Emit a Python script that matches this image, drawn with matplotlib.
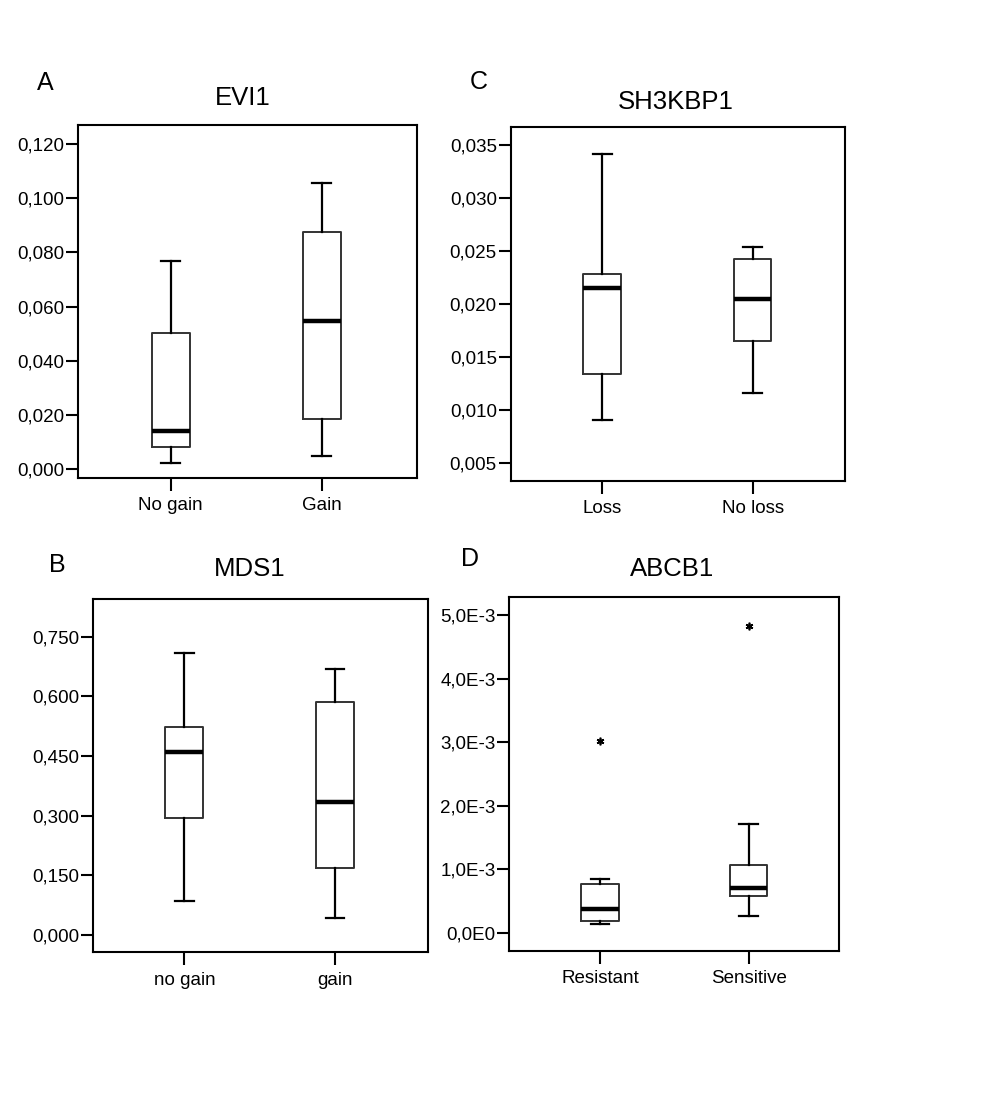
import matplotlib.pyplot as plt
import numpy as np
from matplotlib.ticker import FuncFormatter

plt.rcParams['font.family'] = ['Liberation Sans', 'DejaVu Sans']

# box statistics: whislo, q1, med, q3, whishi
evi1_groups = ['No gain', 'Gain']
evi1_whislo = [0.0023, 0.0048]
evi1_q1 = [0.0082, 0.0184]
evi1_med = [0.0142, 0.0548]
evi1_q3 = [0.0503, 0.0876]
evi1_whishi = [0.0768, 0.1055]

sh3_groups = ['Loss', 'No loss']
sh3_whislo = [0.00903, 0.01155]
sh3_q1 = [0.01338, 0.01650]
sh3_med = [0.02152, 0.02043]
sh3_q3 = [0.02279, 0.02420]
sh3_whishi = [0.03415, 0.02540]

mds1_groups = ['no gain', 'gain']
mds1_whislo = [0.086, 0.0435]
mds1_q1 = [0.295, 0.168]
mds1_med = [0.461, 0.335]
mds1_q3 = [0.522, 0.585]
mds1_whishi = [0.710, 0.669]

abcb1_groups = ['Resistant', 'Sensitive']
abcb1_whislo = [0.137e-3, 0.268e-3]
abcb1_q1 = [0.184e-3, 0.578e-3]
abcb1_med = [0.373e-3, 0.699e-3]
abcb1_q3 = [0.761e-3, 1.066e-3]
abcb1_whishi = [0.840e-3, 1.706e-3]
abcb1_outliers = [[3.017e-3], [4.832e-3]]


def make_stats(labels, lo, q1, med, q3, hi, fliers=None):
    stats = []
    for i in range(len(labels)):
        stats.append(dict(label=labels[i], whislo=lo[i], q1=q1[i], med=med[i],
                          q3=q3[i], whishi=hi[i],
                          fliers=np.array(fliers[i] if fliers else [])))
    return stats


def comma_fmt(decimals):
    return FuncFormatter(lambda v, p: f"{v:.{decimals}f}".replace('.', ','))


def sci_fmt(v, p):
    if abs(v) < 1e-12:
        return "0,0E0"
    return f"{v * 1000:.1f}".replace('.', ',') + "E-3"


def draw_panel(ax, stats, ylim, yticks, fmt, xlim):
    ax.bxp(stats, positions=[1, 2], widths=0.25, showfliers=True,
           boxprops=dict(color='#333333', linewidth=1.4),
           whiskerprops=dict(color='black', linewidth=1.6),
           capprops=dict(color='black', linewidth=1.6),
           medianprops=dict(color='black', linewidth=3.2),
           flierprops=dict(marker=(6, 2, 0), markersize=5.5, markeredgecolor='black',
                           markeredgewidth=1.2, linestyle='none'))
    ax.set_xlim(*xlim)
    ax.set_ylim(*ylim)
    ax.set_yticks(yticks)
    ax.yaxis.set_major_formatter(fmt)
    for s in ax.spines.values():
        s.set_linewidth(1.5)
    ax.tick_params(axis='y', length=9, width=1.5, pad=1, labelsize=13.5, colors='black')
    ax.tick_params(axis='x', length=9, width=1.5, pad=5, labelsize=13.5)


fig = plt.figure(figsize=(10, 11.2), dpi=100)

axA = fig.add_axes([0.078, 0.5732, 0.339, 0.3152])
draw_panel(axA, make_stats(evi1_groups, evi1_whislo, evi1_q1, evi1_med, evi1_q3, evi1_whishi),
           (-0.0032, 0.1269), np.arange(0, 0.121, 0.02), comma_fmt(3), (0.386, 2.631))

axC = fig.add_axes([0.5107, 0.5708, 0.3343, 0.3155])
draw_panel(axC, make_stats(sh3_groups, sh3_whislo, sh3_q1, sh3_med, sh3_q3, sh3_whishi),
           (0.0033, 0.03667), np.arange(0.005, 0.0351, 0.005), comma_fmt(3), (0.391, 2.614))

axB = fig.add_axes([0.0933, 0.1497, 0.3344, 0.3152])
draw_panel(axB, make_stats(mds1_groups, mds1_whislo, mds1_q1, mds1_med, mds1_q3, mds1_whishi),
           (-0.0435, 0.844), np.arange(0, 0.751, 0.15), comma_fmt(3), (0.396, 2.615))

axD = fig.add_axes([0.5093, 0.1512, 0.330, 0.3155])
draw_panel(axD, make_stats(abcb1_groups, abcb1_whislo, abcb1_q1, abcb1_med, abcb1_q3,
                           abcb1_whishi, abcb1_outliers),
           (-0.283e-3, 5.279e-3), np.arange(0, 5.1e-3, 1e-3), FuncFormatter(sci_fmt),
           (0.390, 2.609))

# titles and panel letters (pixel positions converted to figure fraction)
W, H = 1000, 1120
fig.text(243 / W, 1 - 105 / H, 'EVI1', ha='center', va='baseline', fontsize=18.5)
fig.text(676 / W, 1 - 109 / H, 'SH3KBP1', ha='center', va='baseline', fontsize=18.5)
fig.text(250 / W, 1 - 576 / H, 'MDS1', ha='center', va='baseline', fontsize=18.5)
fig.text(672 / W, 1 - 576 / H, 'ABCB1', ha='center', va='baseline', fontsize=18.5)

fig.text(37 / W, 1 - 90 / H, 'A', ha='left', va='baseline', fontsize=18)
fig.text(470 / W, 1 - 89 / H, 'C', ha='left', va='baseline', fontsize=18)
fig.text(49 / W, 1 - 572 / H, 'B', ha='left', va='baseline', fontsize=18)
fig.text(461 / W, 1 - 566 / H, 'D', ha='left', va='baseline', fontsize=18)

fig.savefig('out.png', dpi=100, facecolor='white')
